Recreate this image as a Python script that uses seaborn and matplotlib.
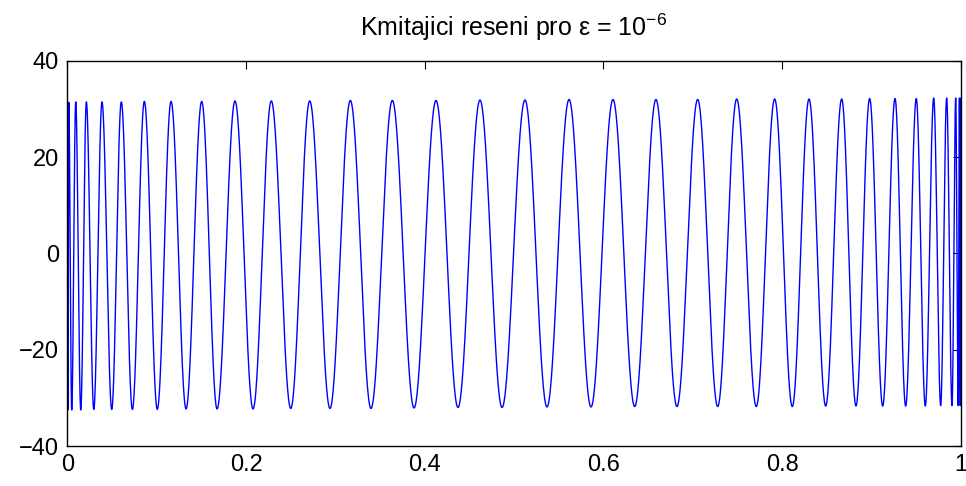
import numpy as np
import pandas as pd
import matplotlib
matplotlib.use("Agg")
import matplotlib.pyplot as plt
import seaborn as sns

# =======================
# Data: times of the maxima / minima and their values
# =======================
peak_t = [0.0000, 0.0016, 0.0094, 0.0213, 0.0388, 0.0604, 0.0862, 0.1161,
          0.1504, 0.1877, 0.2283, 0.2713, 0.3168, 0.3638, 0.4127, 0.4619,
          0.5123, 0.5616, 0.6108, 0.6589, 0.7056, 0.7493, 0.7918, 0.8302,
          0.8668, 0.8981, 0.9265, 0.9503, 0.9698, 0.9843, 0.9944, 0.9986,
          1.0000]
peak_y = [31.4, 31.4, 31.5, 31.5, 31.5, 31.5, 31.6, 31.6,
          31.6, 31.7, 31.7, 31.7, 31.8, 31.8, 31.8, 31.9,
          31.9, 32.0, 32.0, 32.0, 32.0, 32.1, 32.1, 32.1,
          32.1, 32.2, 32.2, 32.2, 32.3, 32.3, 32.3, 32.3,
          32.3]

trough_t = [0.0007, 0.0049, 0.0150, 0.0296, 0.0497, 0.0728, 0.1007, 0.1329,
            0.1676, 0.2079, 0.2501, 0.2940, 0.3399, 0.3881, 0.4373, 0.4866,
            0.5369, 0.5862, 0.6351, 0.6824, 0.7280, 0.7712, 0.8115, 0.8489,
            0.8828, 0.9127, 0.9384, 0.9604, 0.9776, 0.9903, 0.9972, 0.9995]
trough_y = [-32.5, -32.5, -32.5, -32.4, -32.4, -32.4, -32.4, -32.3,
            -32.3, -32.3, -32.2, -32.2, -32.2, -32.1, -32.0, -32.0,
            -31.9, -31.9, -31.8, -31.8, -31.8, -31.8, -31.8, -31.7,
            -31.7, -31.7, -31.7, -31.7, -31.6, -31.6, -31.6, -31.6]

x_ticks = [0, 0.2, 0.4, 0.6, 0.8, 1]
x_ticklabels = ["0", "0.2", "0.4", "0.6", "0.8", "1"]
y_ticks = [-40, -20, 0, 20, 40]
title = "Kmitajici reseni pro ε = $10^{-6}$"

# =======================
# Build the curve: half-cosine arcs joining consecutive extrema
# =======================
ext = sorted(zip(peak_t + trough_t, peak_y + trough_y))
xs, ys = [], []
for (t0, v0), (t1, v1) in zip(ext[:-1], ext[1:]):
    s = np.linspace(0, 1, 60, endpoint=False)
    xs.append(t0 + (t1 - t0) * s)
    ys.append((v0 + v1) / 2 + (v0 - v1) / 2 * np.cos(np.pi * s))
xs.append([ext[-1][0]])
ys.append([ext[-1][1]])
df = pd.DataFrame({"t": np.concatenate(xs), "u": np.concatenate(ys)})

# =======================
# Plot
# =======================
sns.set_style("white")
plt.rcParams["font.family"] = ["Liberation Sans", "DejaVu Sans"]
plt.rcParams["mathtext.default"] = "regular"
plt.rcParams["text.color"] = "black"

fig = plt.figure(figsize=(9.66, 4.86), dpi=100)
ax = fig.add_axes([0.0697, 0.0823, 0.9248, 0.7922])

sns.lineplot(data=df, x="t", y="u", ax=ax, color="#0000ff", linewidth=1.0,
             estimator=None, sort=False)

ax.set_xlim(0, 1)
ax.set_ylim(-40, 40)
ax.set_xticks(x_ticks)
ax.set_xticklabels(x_ticklabels)
ax.set_yticks(y_ticks)
ax.set_xlabel("")
ax.set_ylabel("")
ax.tick_params(direction="in", length=6, width=0.8, labelsize=17, pad=6,
               top=True, right=True, colors="black")
for sp in ax.spines.values():
    sp.set_visible(True)
    sp.set_color("black")
    sp.set_linewidth(1.0)

ax.set_title(title, fontsize=18, pad=18, color="black")

fig.savefig("out.png", dpi=100, facecolor="white")
